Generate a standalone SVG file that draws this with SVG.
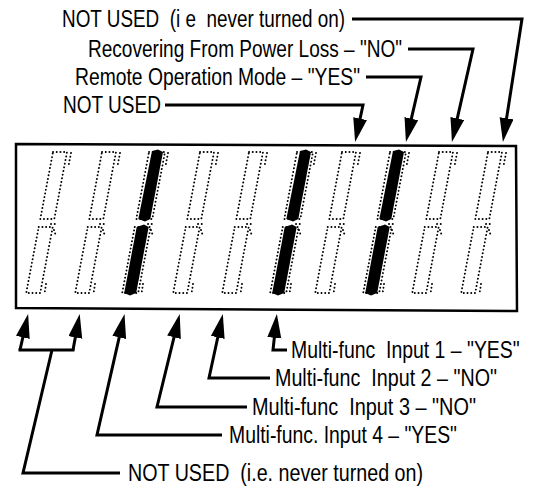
<svg xmlns="http://www.w3.org/2000/svg" width="535" height="493" viewBox="0 0 535 493">
<style>
  .lbl { font-family: "Liberation Sans", Arial, sans-serif; font-size: 23px; fill: #000; white-space: pre; }
  .con { fill: none; stroke: #000; stroke-width: 3; stroke-linejoin: miter; }
  .dot { fill: none; stroke: #000; stroke-width: 1.9; stroke-linecap: round; stroke-dasharray: 0.1 3.6; }
  .bar { fill: #000; }
  .frame { fill: none; stroke: #000; stroke-width: 2.5; }
</style>
<defs>
  <marker id="ah" markerUnits="userSpaceOnUse" markerWidth="26" markerHeight="16" refX="13" refY="7" orient="auto" viewBox="0 0 26 16">
    <path d="M0,0 L24,7 L0,14 Z" fill="#000"/>
  </marker>
  <g id="ticks">
    <path class="dot" d="M11,1 L8.5,14"/>
    <path class="dot" d="M-9,72 L-2,72 M-6,78 L-4,84"/>
    <path class="dot" d="M-14,132 L-15.5,142"/>
  </g>
  <g id="segOff">
    <path class="dot" d="M-7,0 L7,0 L-5.7,67 L-19.7,67 Z"/>
    <path class="dot" d="M-21.3,75 L-7.3,75 L-19.8,141 L-33.8,141 Z"/>
    <use href="#ticks"/>
  </g>
  <g id="segOn">
    <path class="dot" d="M-8,0 L8,0 L-4.7,67 L-20.7,67 Z"/>
    <path class="dot" d="M-22.3,75 L-6.3,75 L-18.8,141 L-34.8,141 Z"/>
    <path class="bar" d="M-5,-1 L1,-2.5 L6,0 L-6.7,67 L-12,69.5 L-18.7,67 Z"/>
    <path class="bar" d="M-20.3,75 L-13,72.5 L-8.3,75 L-20.8,141 L-27,143.5 L-32.8,141 Z"/>
    <use href="#ticks"/>
  </g>
</defs>

<g id="display">
  <path class="frame" d="M16,144 L516,146 L517,311 L16,308 Z"/>
  <use id="digit1" href="#segOff" x="60" y="152"/>
  <use id="digit2" href="#segOff" x="109" y="152"/>
  <use id="digit3" href="#segOn" x="157" y="152"/>
  <use id="digit4" href="#segOff" x="207" y="152"/>
  <use id="digit5" href="#segOff" x="256" y="152"/>
  <use id="digit6" href="#segOn" x="305" y="152"/>
  <use id="digit7" href="#segOff" x="349" y="152"/>
  <use id="digit8" href="#segOn" x="398" y="152"/>
  <use id="digit9" href="#segOff" x="446" y="152"/>
  <use id="digit10" href="#segOff" x="495" y="152"/>
</g>

<g id="connectors">
  <path class="con" d="M352,19 H522 L504.6,131.1" marker-end="url(#ah)"/>
  <path class="con" d="M408,49 H473 L454.4,131.2" marker-end="url(#ah)"/>
  <path class="con" d="M366,77 H421 L408.4,131.3" marker-end="url(#ah)"/>
  <path class="con" d="M165,105 H363 L357.4,131.3" marker-end="url(#ah)"/>

  <path class="con" d="M120,473 H23 L52,350"/>
  <path class="con" d="M18.5,350 H74.5"/>
  <path class="con" d="M20,350 L25.7,324.7" marker-end="url(#ah)"/>
  <path class="con" d="M73,350 L77.7,324.7" marker-end="url(#ah)"/>
  <path class="con" d="M222,435 H97 L122.1,324.7" marker-end="url(#ah)"/>
  <path class="con" d="M247,407 H157 L177.1,324.6" marker-end="url(#ah)"/>
  <path class="con" d="M270,378 H209 L220.5,324.7" marker-end="url(#ah)"/>
  <path class="con" d="M287,350 H273 L275.7,324.9" marker-end="url(#ah)"/>
</g>

<g id="label-top1"><text class="lbl" x="62" y="27" textLength="283" lengthAdjust="spacingAndGlyphs">NOT USED  (i e  never turned on)</text></g>
<g id="label-top2"><text class="lbl" x="88" y="57" textLength="314" lengthAdjust="spacingAndGlyphs">Recovering From Power Loss – "NO"</text></g>
<g id="label-top3"><text class="lbl" x="75" y="85" textLength="285" lengthAdjust="spacingAndGlyphs">Remote Operation Mode – "YES"</text></g>
<g id="label-top4"><text class="lbl" x="63" y="113" textLength="98" lengthAdjust="spacingAndGlyphs">NOT USED</text></g>

<g id="label-bot1"><text class="lbl" transform="translate(291,358) scale(0.85,1)" x="0" y="0" textLength="269" lengthAdjust="spacingAndGlyphs">Multi-func  Input 1 – "YES"</text></g>
<g id="label-bot2"><text class="lbl" x="275" y="386" textLength="222" lengthAdjust="spacingAndGlyphs">Multi-func  Input 2 – "NO"</text></g>
<g id="label-bot3"><text class="lbl" x="252" y="415" textLength="224" lengthAdjust="spacingAndGlyphs">Multi-func  Input 3 – "NO"</text></g>
<g id="label-bot4"><text class="lbl" x="229" y="443" textLength="228" lengthAdjust="spacingAndGlyphs">Multi-func. Input 4 – "YES"</text></g>
<g id="label-bot5"><text class="lbl" x="128" y="481" textLength="295" lengthAdjust="spacingAndGlyphs">NOT USED  (i.e. never turned on)</text></g>
</svg>
